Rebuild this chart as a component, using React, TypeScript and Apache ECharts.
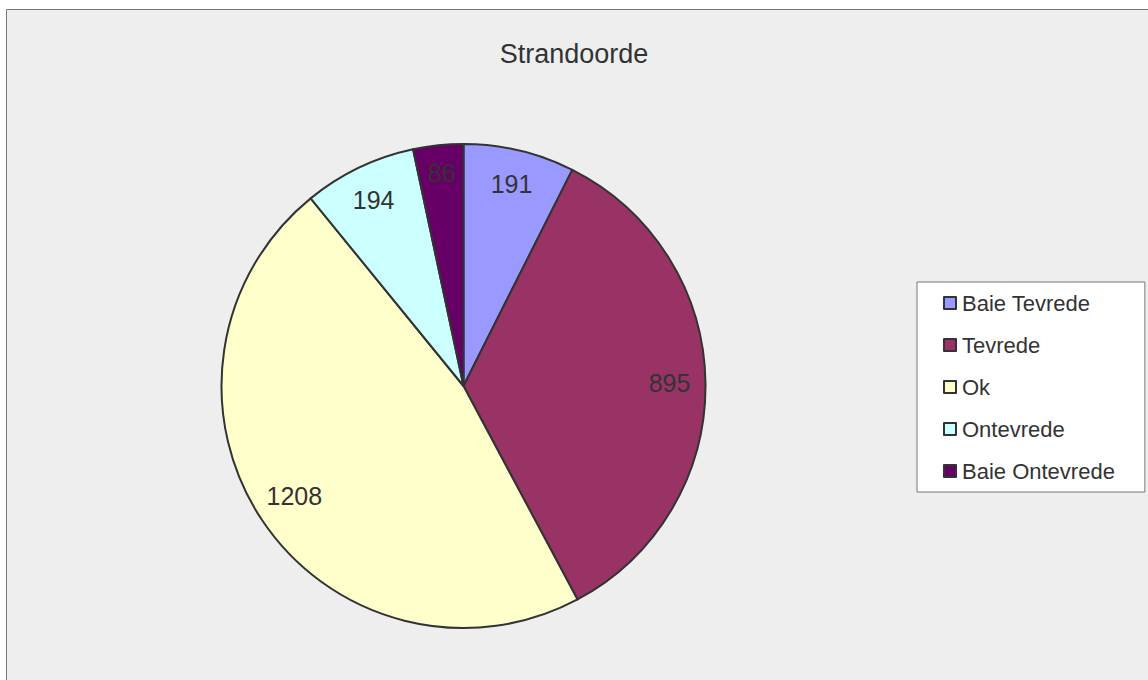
import React, { useEffect, useRef } from "react";
import * as echarts from "echarts";

const title = "Strandoorde";
const categories = ["Baie Tevrede", "Tevrede", "Ok", "Ontevrede", "Baie Ontevrede"];
const values = [191, 895, 1208, 194, 86];
const colors = ["#9999FF", "#993366", "#FFFFCC", "#CCFFFF", "#660066"];

const FONT = "'Liberation Sans', Arial, sans-serif";

// small per-slice nudges of the value labels
const labelOffset: Record<string, number[]> = {
  Ok: [4, -5],
  "Baie Ontevrede": [0, -6],
  Tevrede: [-2, 0],
  Ontevrede: [0, 2],
};

export default function App() {
  const ref = useRef<HTMLDivElement>(null);

  useEffect(() => {
    if (!ref.current) return;
    const chart = echarts.init(ref.current, undefined, { renderer: "svg" });

    const data = categories.map((name, i) => ({
      name,
      value: values[i],
      itemStyle: { color: colors[i] },
    }));

    chart.setOption({
      animation: false,
      graphic: [
        {
          type: "rect",
          z: -10,
          shape: { x: 6.5, y: 9.5, width: 1200, height: 720 },
          style: { fill: "#EEEEEE", stroke: "#777777", lineWidth: 1 },
        },
      ],
      title: {
        text: title,
        left: "center",
        top: 35,
        textStyle: {
          fontFamily: FONT,
          fontSize: 27,
          fontWeight: "normal",
          color: "#333333",
        },
      },
      legend: {
        orient: "vertical",
        left: 917,
        top: 282,
        data: categories,
        backgroundColor: "#FFFFFF",
        borderColor: "#777777",
        borderWidth: 1,
        borderRadius: 0,
        padding: [10, 30, 10, 26],
        itemWidth: 12,
        itemHeight: 12,
        itemGap: 20,
        icon: "rect",
        selectedMode: false,
        itemStyle: { borderColor: "#333333", borderWidth: 2 },
        textStyle: {
          fontFamily: FONT,
          fontSize: 22,
          lineHeight: 22,
          color: "#333333",
          padding: [0, 0, 0, 1],
        },
      },
      series: [
        {
          type: "pie",
          center: [463.5, 386],
          radius: [0, 242],
          startAngle: 90,
          clockwise: true,
          silent: true,
          data,
          label: { show: false },
          labelLine: { show: false },
          itemStyle: { borderColor: "#333333", borderWidth: 2 },
        },
        {
          // transparent ring used only to place the value labels near the rim
          type: "pie",
          center: [463.5, 386],
          radius: [168, 242],
          startAngle: 90,
          clockwise: true,
          silent: true,
          data: categories.map((name, i) => ({
            name,
            value: values[i],
            label: labelOffset[name] ? { offset: labelOffset[name] } : undefined,
          })),
          itemStyle: { color: "rgba(0,0,0,0)", borderWidth: 0 },
          label: {
            show: true,
            position: "inside",
            formatter: "{c}",
            fontFamily: FONT,
            fontSize: 25,
            color: "#333333",
          },
          labelLine: { show: false },
        },
      ],
    });

    return () => chart.dispose();
  }, []);

  return (
    <div
      ref={ref}
      style={{ position: "fixed", left: 0, top: 0, width: 1148, height: 680, background: "#FFFFFF" }}
    />
  );
}
